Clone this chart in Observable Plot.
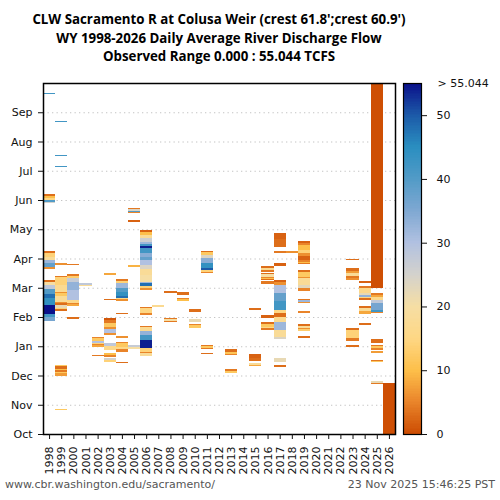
<!DOCTYPE html>
<html>
<head>
<meta charset="utf-8">
<script src="https://cdn.jsdelivr.net/npm/d3@7"></script>
<script src="https://cdn.jsdelivr.net/npm/@observablehq/plot@0.6"></script>
<style>
  html, body { margin: 0; padding: 0; background: #fff; }
  #wrap { position: relative; width: 500px; height: 500px; overflow: hidden; background: #fff; }
  #wrap svg { position: absolute; left: 0; top: 0; }
  .title { position: absolute; left: 0; width: 438px; text-align: center; font-family: "Open Sans", sans-serif; font-weight: bold; font-size: 13.3px; line-height: 19px; color: #000; white-space: nowrap; }
  .foot { position: absolute; top: 478px; font-family: "DejaVu Sans", sans-serif; font-size: 11px; line-height: 13px; color: #555; white-space: nowrap; }
</style>
</head>
<body>
<div id="wrap">
  <div class="title" style="top:10px">CLW Sacramento R at Colusa Weir (crest 61.8';crest 60.9')</div>
  <div class="title" style="top:28.5px">WY 1998-2026 Daily Average River Discharge Flow</div>
  <div class="title" style="top:47px">Observed Range 0.000 : 55.044 TCFS</div>
  <div class="foot" style="left:5px">www.cbr.washington.edu/sacramento/</div>
  <div class="foot" style="right:5px">23 Nov 2025 15:46:25 PST</div>
</div>
<script>
// ---- tick labels ----
const years = ["1998","1999","2000","2001","2002","2003","2004","2005","2006","2007","2008","2009","2010","2011","2012","2013","2014","2015","2016","2017","2018","2019","2020","2021","2022","2023","2024","2025","2026"];
const monthLabels = ["Oct","Nov","Dec","Jan","Feb","Mar","Apr","May","Jun","Jul","Aug","Sep"];
const legendTicks = [0, 10, 20, 30, 40, 50];
const flowMax = 55.044;

// ---- data: runs of [first day of water year, last day, flow (kcfs)] ----
const wy1998 = [[118,122,36],[122,125,42],[125,134,55],[134,141,44],[141,146,48],[146,151,40],[151,155,28],[155,158,20],[158,160,3],
  [172,174,6],[174,178,38],[178,181,32],[181,184,18],[184,188,14],[188,190,3],
  [240,241,25],[241,243,40],[243,245,15],[245,248,10],[248,250,3],[353.5,354.5,42]];
const wy1999 = [[25.2,26.2,12],[60.3,63,7],[63,64,12],[64,66.6,4],[66.6,68,10],[68,71,3],[71,72,12],
  [128.3,129.7,3],[129.7,131,14],[131,134,22],[134,136.6,3],[136.6,137.6,6],[137.6,143,18],[143,146.3,12],[146.3,148,6],[148,155,17],[155,163,14],[163,164.3,4],
  [175.7,178.2,6],[277.5,278.5,42],[289.5,290.5,42],[324.5,325.5,42]];
const wy2000 = [[120,122,3],[133.2,135,8],[135,136,5],[136,139.4,16],[139.4,150,30],[150,158,33],[158,162,27],[162,164.3,13],[164.3,166.4,4],[176,177,4]];
const wy2001 = [[148.2,149.2,4],[154.2,155,18],[155,157.3,28]];
const wy2002 = [[81.5,82.5,4],[90.1,92.2,8],[92.2,93.5,5],[93.5,95,14],[95,97,30],[97,99.4,12],[99.4,101.2,5]];
const wy2003 = [[74.6,77,14],[77,78.7,25],[79.8,82,5],[82,84.6,10],[87.5,91.5,16],[91.5,94.3,28],[103,105.4,6],[105.4,108.9,30],[108.9,111.6,6],[111.6,115.2,12],[115.2,118.6,4],[118.6,120.3,1],[139,140,3],[165.4,167.1,8]];
const wy2004 = [[74,75,3],[85.6,88.1,5],[88.1,90.8,16],[90.8,94.3,12],[94.3,96,5],[99.5,102.3,6],[125,126,3],[138.7,140,6],[140,141.1,16],[141.1,144,48],[144,148,44],[148,151.5,40],[151.5,156.7,32],[156.7,159.6,14],[159.6,160.9,4]];
const wy2005 = [[88.1,90,20],[90,92.6,27],[173.3,175.8,9],[220.7,222.4,2],[229.5,230.9,5],[230.9,232.2,40],[232.2,233.6,24],[233.6,235,4]];
const wy2006 = [[81.6,84,18],[84,85.7,5],[85.7,89.2,14],[89.2,97.8,54],[97.8,103,42],[103,107.4,33],[107.4,110.9,17],[110.9,112.3,4],
  [123.5,125.9,5],[125.9,130.7,15],[130.7,132.1,4],
  [150,151.5,6],[151.5,153.5,14],[153.5,157,48],[157,158,32],[158,165,20],[165,172,18],[172,176,24],[176,181,30],[181,184,38],[184,188,34],[188,193,42],[193,195,54],[195,198,42],[198,200,32],[200,203.5,26],[203.5,207,18],[207,210,10],[210,212,2]];
const wy2007 = [[132.4,134,17]];
const wy2008 = [[116.8,117.8,4],[117.8,119.5,20],[119.5,120.3,4],[147,148.7,3]];
const wy2009 = [[138.6,140.5,10],[140.5,141.8,5],[144.5,148.1,3],[153.4,154.4,6]];
const wy2010 = [[110.6,113,12],[113,114.4,5],[116.8,119.6,22],[127.2,129.6,3]];
const wy2011 = [[83,84,3],[88.4,89.5,4],[89.5,91.5,12],[91.5,92.6,4],[167.1,168.8,5],[168.8,170.5,14],[170.5,172.2,50],[172.2,177.4,44],[177.4,182.6,34],[182.6,186,24],[186,189,12],[189,190.3,3]];
const wy2013 = [[63.1,65.9,12],[65.9,67.6,4],[81.8,82.8,5],[82.8,85.6,11],[85.6,88.4,3]];
const wy2015 = [[70.7,71.7,8],[71.7,74.1,18],[75.9,79.5,3],[79.5,83.2,2],[128.9,131,3]];
const wy2016 = [[108.2,110,4],[110,111.5,16],[111.5,114,12],[114.4,116.8,3],[121,123.8,2],[156,159.1,4],[160.1,161.2,3],[161.2,162.2,10],[162.2,163.6,5],[163.6,166.4,20],[166.4,167.8,3],[168.8,170.5,4],[170.5,172.3,17],[172.3,174.7,3]];
const wy2017 = [[70,71.8,3],[75.2,78.7,22],[98.5,100.5,24],[100.5,108.2,18],[108.2,116.8,32],[116.8,122,17],[122,125.5,3],[125.5,129,15],[129,138,42],[138,146.3,38],[146.3,155,30],[155,158.5,6],[158.5,160.1,2],[174.7,178.1,2],[188.5,190.3,4],[194.8,203,3],[203,209.3,2]];
const wy2018 = [[188.5,190.3,6]];
const wy2019 = [[100.1,101.9,3],[107.1,109,13],[109,110.5,6],[110.5,112.5,18],[112.5,114.4,3],[125.5,127.9,5],[135.9,137.3,6],[137.3,139,32],[139,140.4,4],[149.1,151.5,5],[151.5,155,23],[155,161.9,18],[161.9,163.6,6],[163.6,168.8,12],[168.8,170.5,3],[176.8,178,4],[178,179,10],[179,181,5],[181,185.2,2],[185.2,188,6],[188,191.4,14],[191.4,196.6,10],[196.6,198.3,5],[198.3,200.7,2]];
const wy2023 = [[90.8,92.6,3],[97.1,99.5,4],[99.5,108.2,14],[108.2,110.6,3],[160.1,161.9,6],[161.9,164.3,4],[164.3,167.8,18],[167.8,169.9,7],[169.9,172.3,3],[180.5,182,3]];
const wy2024 = [[113.4,115.8,3],[124.8,127.9,8],[127.9,130.7,18],[130.7,133.1,3],[139.4,141.1,3],[141.1,142.1,15],[142.1,144.6,33],[144.6,146.3,22],[146.3,152.2,16],[152.2,153.9,4],[156.7,159.1,2]];
const wy2025 = [[51.7,53,4],[53,55.1,22],[74.6,76,12],[76,77,4],[84.5,86.3,7],[87.4,89,5],[89,91,12],[91,92.6,4],[95,98.5,3],[125.5,127.2,5],[127.2,129,42],[129,135.9,36],[135.9,139.4,28],[139.4,142.8,16],[142.8,144.6,8],[144.6,146.3,4],[152.2,365,0.3]];
const wy2026 = [[0,53.4,0.3]];

const runsByYear = {"1998":wy1998,"1999":wy1999,"2000":wy2000,"2001":wy2001,"2002":wy2002,"2003":wy2003,"2004":wy2004,"2005":wy2005,"2006":wy2006,"2007":wy2007,"2008":wy2008,"2009":wy2009,"2010":wy2010,"2011":wy2011,"2013":wy2013,"2015":wy2015,"2016":wy2016,"2017":wy2017,"2018":wy2018,"2019":wy2019,"2023":wy2023,"2024":wy2024,"2025":wy2025,"2026":wy2026};

// ---- colour ramp (legend stops) ----
const colorStops = [0, 5, 10, 15, 20, 25, 30, 35, 40, 45, 50, 55.044];
const colorRange = ["#cc4c02","#e9842a","#fdbf4a","#fed784","#f6dea4","#d4d2cc","#b1c1e1","#7fa8d2","#529bc7","#2a8ec0","#1c5aa8","#0a0f8a"];

const cells = [];
for (const y of Object.keys(runsByYear)) for (const [a, b, v] of runsByYear[y]) cells.push({year: y, start: a, end: b, value: v});

const monthTicks = monthLabels.map((m, i) => i * 365 / 12);
const colorSpec = {type: "linear", domain: colorStops, range: colorRange, clamp: true};

const main = Plot.plot({
  width: 500, height: 500,
  marginLeft: 43, marginRight: 105, marginTop: 83, marginBottom: 66,
  style: {fontFamily: "DejaVu Sans, sans-serif", fontSize: "11px", color: "#111", background: "transparent"},
  x: {type: "band", domain: years, padding: 0, round: false, label: null},
  y: {domain: [0, 365], label: null},
  color: colorSpec,
  marks: [
    Plot.ruleY(monthTicks.slice(1), {stroke: "#c4c4c4", strokeWidth: 1.2, strokeDasharray: "1.3,3.2"}),
    Plot.barY(cells, {x: "year", y1: "start", y2: "end", fill: "value", shapeRendering: "crispEdges"}),
    Plot.frame({stroke: "#000", strokeWidth: 1.5}),
    Plot.axisY({ticks: monthTicks, tickFormat: (d, i) => monthLabels[i], tickSize: 5, tickPadding: 6, label: null}),
    Plot.axisX({tickRotate: -90, tickSize: 5, tickPadding: 7, label: null})
  ]
});
document.getElementById("wrap").appendChild(main);

const legendStrips = d3.range(0, flowMax, 0.25);
const legend = Plot.plot({
  width: 500, height: 500,
  marginLeft: 403, marginRight: 79, marginTop: 83, marginBottom: 66,
  style: {fontFamily: "DejaVu Sans, sans-serif", fontSize: "11px", color: "#111", background: "transparent"},
  x: {domain: [0, 1], axis: null},
  y: {domain: [0, flowMax], label: null},
  color: colorSpec,
  marks: [
    Plot.rect(legendStrips, {x1: 0, x2: 1, y1: d => d, y2: d => Math.min(flowMax, d + 0.3), fill: d => d + 0.125, shapeRendering: "crispEdges"}),
    Plot.frame({stroke: "#000", strokeWidth: 1.2}),
    Plot.axisY({anchor: "right", ticks: legendTicks, tickSize: 5, tickPadding: 10, label: null}),
    Plot.text(["> " + flowMax.toFixed(3)], {x: 1, y: flowMax, dx: 16, textAnchor: "start", frameAnchor: "left"})
  ]
});
document.getElementById("wrap").appendChild(legend);
</script>
</body>
</html>
